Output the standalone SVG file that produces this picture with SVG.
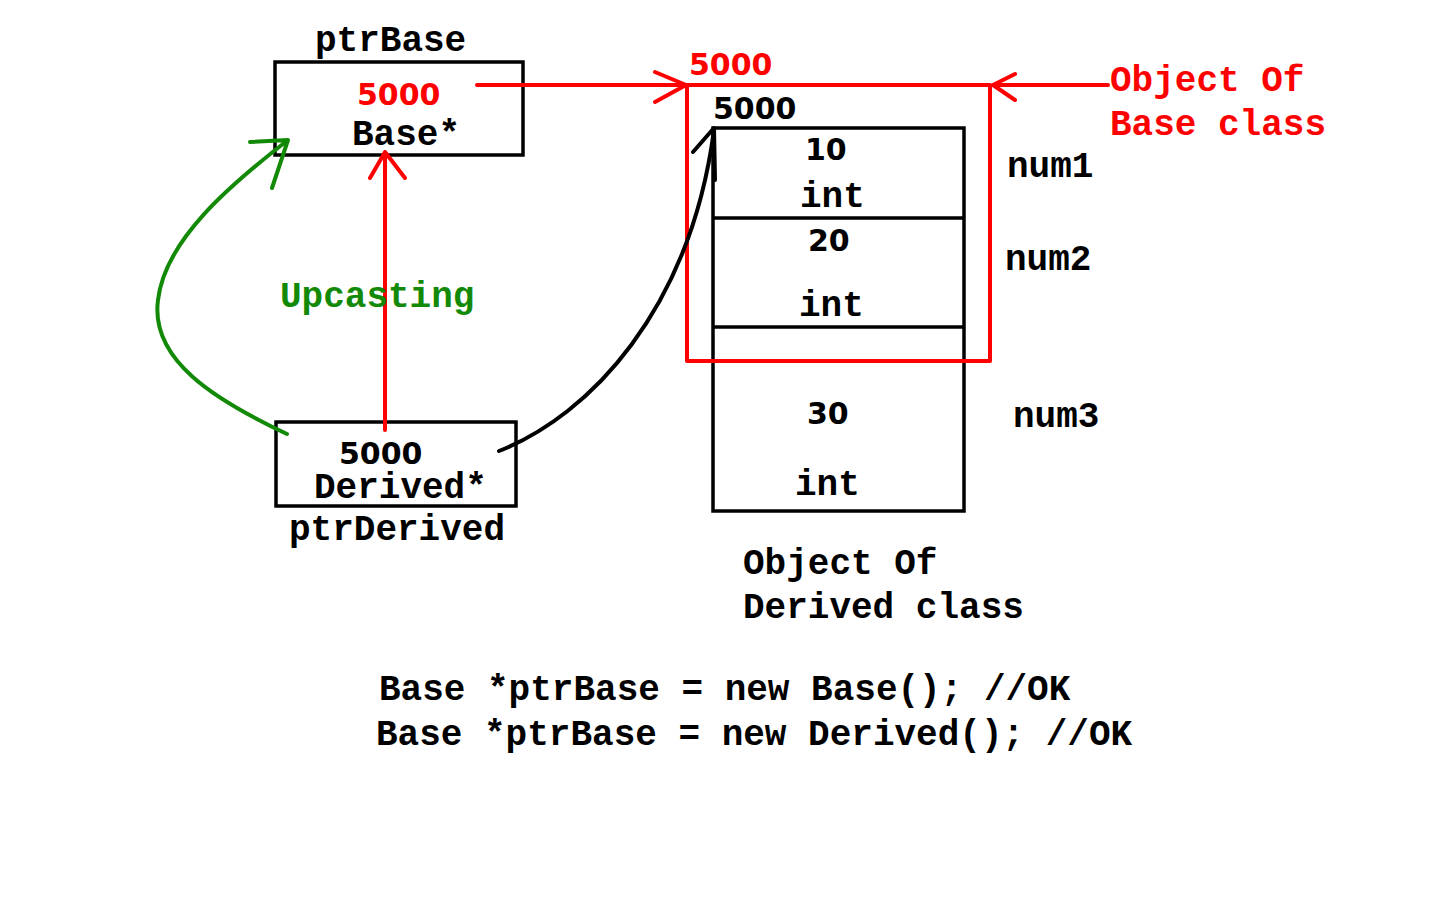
<svg xmlns="http://www.w3.org/2000/svg" width="1440" height="900" viewBox="0 0 1440 900">
<style>
.t{font-family:"Liberation Mono","Courier New",monospace;font-weight:bold;font-size:36px;fill:#000}
.n{font-family:"DejaVu Sans",Verdana,sans-serif;font-weight:bold;font-size:30px;fill:#000}
.red{fill:#ff0000}
.grn{fill:#138a07}
.box{fill:none;stroke:#000;stroke-width:3.5}
.rl{fill:none;stroke:#ff0000;stroke-width:4;stroke-linecap:round;stroke-linejoin:round}
.gl{fill:none;stroke:#138a07;stroke-width:4;stroke-linecap:round;stroke-linejoin:round}
.bl{fill:none;stroke:#000;stroke-width:4;stroke-linecap:round;stroke-linejoin:round}
</style>
<rect width="1440" height="900" fill="#fff"/>
<g id="ptrBase">
<rect class="box" x="275" y="62" width="248" height="93"/>
<text class="t" x="315" y="51">ptrBase</text>
<text class="n red" x="357" y="105">5000</text>
<text class="t" x="352" y="145">Base*</text>
</g>
<g id="ptrDerived">
<rect class="box" x="276" y="422" width="240" height="84"/>
<text class="n" x="339" y="464">5000</text>
<text class="t" x="314" y="498">Derived*</text>
<text class="t" x="289" y="540">ptrDerived</text>
</g>
<g id="derivedObject">
<rect class="box" x="713" y="128" width="251" height="383"/>
<line class="box" x1="713" y1="218" x2="964" y2="218"/>
<line class="box" x1="713" y1="327" x2="964" y2="327"/>
<text class="n" x="713" y="119">5000</text>
<text class="n" x="805" y="160">10</text>
<text class="t" x="800" y="207">int</text>
<text class="n" x="808" y="251">20</text>
<text class="t" x="799" y="316">int</text>
<text class="n" x="807" y="424">30</text>
<text class="t" x="795" y="495">int</text>
<text class="t" x="1007" y="177">num1</text>
<text class="t" x="1005" y="270">num2</text>
<text class="t" x="1013" y="427">num3</text>
<text class="t" x="743" y="574">Object Of</text>
<text class="t" x="743" y="618">Derived class</text>
</g>
<g id="baseObject">
<rect class="rl" x="687" y="85" width="303" height="276" stroke-linecap="butt" stroke-linejoin="miter"/>
<text class="n red" x="689" y="75">5000</text>
<text class="t red" x="1110" y="91">Object Of</text>
<text class="t red" x="1110" y="135">Base class</text>
</g>
<g id="connectors">
<path class="rl" d="M477,85 H686 M655,72 L686,85 L655,102"/>
<path class="rl" d="M1108,85 H993 M1015,74 L993,85 L1015,100"/>
<path class="rl" d="M385,430 V152 M370,178 L385,152 L405,178"/>
<path class="gl" d="M287,434 C215,400 150,360 158,300 C165,240 230,185 288,140 M250,142 L288,140 L272,188"/>
<path class="bl" d="M499,451 C590,415 690,310 714,130 M693,152 L714,128 L715,180"/>
</g>
<g id="labels">
<text class="t grn" x="280" y="307">Upcasting</text>
<text class="t" x="379" y="700">Base *ptrBase = new Base(); //OK</text>
<text class="t" x="376" y="745">Base *ptrBase = new Derived(); //OK</text>
</g>
</svg>
